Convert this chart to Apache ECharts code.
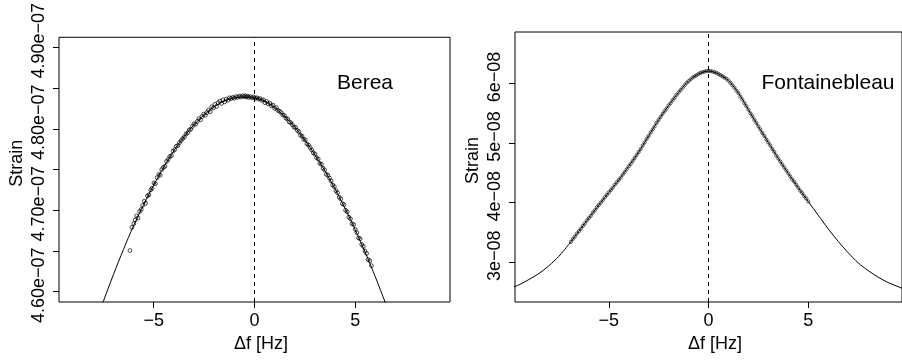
<!DOCTYPE html>
<html>
<head>
<meta charset="utf-8">
<script src="https://cdn.jsdelivr.net/npm/echarts@6/dist/echarts.min.js"></script>
<style>
  html, body { margin: 0; padding: 0; background: #fff; }
  #chart { width: 902px; height: 360px; }
</style>
</head>
<body>
<div id="chart"></div>
<script>
// ---- data ----
const X_MIN = -9.7;
const X_MAX = 9.7;
const xTicks = [-5, 0, 5];

// Berea: strain in units of 1e-7
const BEREA_UNIT = 1e-7;
const bereaTicks = [4.60, 4.65, 4.70, 4.75, 4.80, 4.85, 4.90];
const bereaLabels = [4.60, 4.70, 4.80, 4.90];
const bereaRange = [4.5874, 4.9123];
const bereaFreq = [
  -6.18, -6.08, -5.99, -5.92, -5.85, -5.78, -5.70, -5.62, -5.55, -5.47,
  -5.40, -5.31, -5.24, -5.15, -5.08, -4.99, -4.92, -4.83, -4.75, -4.68,
  -4.60, -4.52, -4.44, -4.36, -4.28, -4.20, -4.12, -4.04, -3.96, -3.88,
  -3.80, -3.72, -3.64, -3.56, -3.48, -3.40, -3.32, -3.24, -3.16, -3.08,
  -3.00, -2.92, -2.84, -2.76, -2.68, -2.60, -2.52, -2.44, -2.36, -2.28,
  -2.20, -2.12, -2.04, -1.96, -1.88, -1.80, -1.72, -1.64, -1.56, -1.48,
  -1.40, -1.32, -1.24, -1.16, -1.08, -1.00, -0.92, -0.84, -0.76, -0.68,
  -0.60, -0.52, -0.46, -0.40, -0.34, -0.28, -0.20, -0.12, -0.04, 0.04,
  0.12, 0.20, 0.28, 0.36, 0.44, 0.52, 0.60, 0.68, 0.76, 0.84,
  0.92, 1.00, 1.08, 1.16, 1.24, 1.32, 1.40, 1.48, 1.56, 1.64,
  1.72, 1.80, 1.88, 1.96, 2.04, 2.12, 2.20, 2.28, 2.36, 2.44,
  2.52, 2.60, 2.68, 2.76, 2.84, 2.92, 3.00, 3.08, 3.16, 3.24,
  3.32, 3.40, 3.48, 3.56, 3.64, 3.72, 3.80, 3.88, 3.96, 4.04,
  4.12, 4.20, 4.28, 4.36, 4.44, 4.52, 4.60, 4.68, 4.76, 4.84,
  4.92, 5.00, 5.08, 5.16, 5.24, 5.32, 5.40, 5.48, 5.56, 5.64,
  5.72, 5.80
];
const bereaStrain = [
  4.6505, 4.6790, 4.6835, 4.6880, 4.6930, 4.6905, 4.6985, 4.7010, 4.7060, 4.7110,
  4.7085, 4.7175, 4.7190, 4.7250, 4.7270, 4.7335, 4.7325, 4.7400, 4.7440, 4.7430,
  4.7500, 4.7525, 4.7540, 4.7600, 4.7625, 4.7660, 4.7670, 4.7725, 4.7745, 4.7785,
  4.7795, 4.7830, 4.7855, 4.7880, 4.7900, 4.7935, 4.7950, 4.7985, 4.7995, 4.8030,
  4.8060, 4.8055, 4.8090, 4.8125, 4.8110, 4.8150, 4.8180, 4.8165, 4.8200, 4.8230,
  4.8210, 4.8270, 4.8255, 4.8300, 4.8275, 4.8320, 4.8340, 4.8310, 4.8355, 4.8330,
  4.8365, 4.8350, 4.8380, 4.8370, 4.8385, 4.8375, 4.8395, 4.8385, 4.8400, 4.8390,
  4.8405, 4.8395, 4.8405, 4.8390, 4.8400, 4.8385, 4.8395, 4.8380, 4.8390, 4.8375,
  4.8380, 4.8365, 4.8370, 4.8350, 4.8355, 4.8320, 4.8335, 4.8305, 4.8315, 4.8280,
  4.8290, 4.8250, 4.8260, 4.8225, 4.8215, 4.8200, 4.8170, 4.8165, 4.8130, 4.8120,
  4.8085, 4.8075, 4.8050, 4.8020, 4.8015, 4.7980, 4.7965, 4.7920, 4.7910, 4.7870,
  4.7865, 4.7815, 4.7800, 4.7770, 4.7740, 4.7705, 4.7690, 4.7645, 4.7630, 4.7575,
  4.7565, 4.7515, 4.7495, 4.7440, 4.7430, 4.7395, 4.7360, 4.7310, 4.7290, 4.7240,
  4.7215, 4.7160, 4.7140, 4.7080, 4.7070, 4.7000, 4.6980, 4.6915, 4.6895, 4.6835,
  4.6825, 4.6765, 4.6725, 4.6660, 4.6650, 4.6580, 4.6555, 4.6500, 4.6470, 4.6395,
  4.6380, 4.6320
];
const bereaFitFreq = [
  -7.7, -7.5, -7.0, -6.5, -6.0, -5.5, -5.0, -4.5, -4.0, -3.5, -3.0, -2.5, -2.0, -1.5,
  -1.0, -0.5, 0.0, 0.5, 1.0, 1.5, 2.0, 2.5, 3.0, 3.5, 4.0, 4.5, 5.0, 5.5, 6.0, 6.5, 6.7
];
const bereaFitStrain = [
  4.572, 4.588, 4.621, 4.652, 4.681, 4.707, 4.731, 4.753, 4.773, 4.790, 4.805, 4.817, 4.827, 4.834,
  4.838, 4.839, 4.838, 4.834, 4.826, 4.815, 4.802, 4.786, 4.768, 4.748, 4.726, 4.702, 4.676, 4.648, 4.618, 4.586, 4.573
];

// Fontainebleau: strain in units of 1e-8
const FONT_UNIT = 1e-8;
const fontTicks = [3, 4, 5, 6];
const fontRange = [2.332, 6.865];
const fontFreq = [
  -6.9, -6.8, -6.7, -6.6, -6.5, -6.4, -6.3, -6.2, -6.1, -6.0,
  -5.9, -5.8, -5.7, -5.6, -5.5, -5.4, -5.3, -5.2, -5.1, -5.0,
  -4.9, -4.8, -4.7, -4.6, -4.5, -4.4, -4.3, -4.2, -4.1, -4.0,
  -3.9, -3.8, -3.7, -3.6, -3.5, -3.4, -3.3, -3.2, -3.1, -3.0,
  -2.9, -2.8, -2.7, -2.6, -2.5, -2.4, -2.3, -2.2, -2.1, -2.0,
  -1.9, -1.8, -1.7, -1.6, -1.5, -1.4, -1.3, -1.2, -1.1, -1.0,
  -0.9, -0.8, -0.7, -0.6, -0.5, -0.4, -0.3, -0.2, -0.1, 0.0,
  0.1, 0.2, 0.3, 0.4, 0.5, 0.6, 0.7, 0.8, 0.9, 1.0,
  1.1, 1.2, 1.3, 1.4, 1.5, 1.6, 1.7, 1.8, 1.9, 2.0,
  2.1, 2.2, 2.3, 2.4, 2.5, 2.6, 2.7, 2.8, 2.9, 3.0,
  3.1, 3.2, 3.3, 3.4, 3.5, 3.6, 3.7, 3.8, 3.9, 4.0,
  4.1, 4.2, 4.3, 4.4, 4.5, 4.6, 4.7, 4.8, 4.9, 5.0
];
const fontStrain = [
  3.34, 3.39, 3.43, 3.48, 3.52, 3.56, 3.61, 3.65, 3.70, 3.74,
  3.78, 3.83, 3.87, 3.92, 3.96, 4.00, 4.04, 4.09, 4.13, 4.17,
  4.21, 4.25, 4.30, 4.34, 4.38, 4.42, 4.47, 4.51, 4.56, 4.61,
  4.65, 4.70, 4.75, 4.80, 4.85, 4.90, 4.96, 5.01, 5.07, 5.12,
  5.18, 5.23, 5.28, 5.34, 5.39, 5.44, 5.49, 5.54, 5.58, 5.63,
  5.67, 5.72, 5.76, 5.81, 5.85, 5.89, 5.93, 5.97, 6.01, 6.04,
  6.07, 6.10, 6.12, 6.14, 6.16, 6.18, 6.19, 6.20, 6.21, 6.21,
  6.21, 6.20, 6.19, 6.18, 6.16, 6.14, 6.12, 6.10, 6.08, 6.05,
  6.01, 5.97, 5.93, 5.88, 5.84, 5.78, 5.73, 5.67, 5.62, 5.56,
  5.50, 5.45, 5.39, 5.34, 5.28, 5.23, 5.17, 5.12, 5.06, 5.01,
  4.96, 4.90, 4.85, 4.79, 4.74, 4.69, 4.64, 4.59, 4.54, 4.49,
  4.44, 4.39, 4.35, 4.30, 4.25, 4.20, 4.16, 4.11, 4.07, 4.02
];
const fontFitFreq = [
  -9.8, -9.5, -9.0, -8.5, -8.0, -7.5, -7.0, -6.5, -6.0, -5.5, -5.0, -4.5, -4.0, -3.5, -3.0,
  -2.5, -2.0, -1.5, -1.0, -0.5, 0.0, 0.5, 1.0, 1.5, 2.0, 2.5, 3.0, 3.5, 4.0, 4.5, 5.0,
  5.5, 6.0, 6.5, 7.0, 7.5, 8.0, 8.5, 9.0, 9.5, 9.8
];
const fontFitStrain = [
  2.58, 2.62, 2.71, 2.81, 2.94, 3.10, 3.30, 3.52, 3.74, 3.96, 4.17, 4.38, 4.61, 4.85, 5.12,
  5.39, 5.63, 5.85, 6.04, 6.16, 6.21, 6.16, 6.05, 5.84, 5.56, 5.28, 5.01, 4.74, 4.49, 4.25, 4.02,
  3.79, 3.56, 3.35, 3.16, 2.99, 2.86, 2.75, 2.66, 2.59, 2.55
];

// ---- chart ----
const FONT = '"Liberation Sans", Arial, Helvetica, sans-serif';
const pairs = (xs, ys, unit) => xs.map((x, i) => [x, ys[i] * unit]);

// R style exponent labels: 4.60e-07 with a real minus sign
function rExp(v, digits) {
  const s = v.toExponential(digits);
  const parts = s.split('e');
  const e = parseInt(parts[1], 10);
  return parts[0] + 'e' + (e < 0 ? '\u2212' : '+') + String(Math.abs(e)).padStart(2, '0');
}

function xAxisFor(gridIndex) {
  return {
    type: 'value',
    gridIndex: gridIndex,
    min: X_MIN,
    max: X_MAX,
    axisLine: { show: false, onZero: false },
    axisTick: { show: true, inside: false, length: 6, customValues: xTicks, lineStyle: { color: '#000', width: 1 } },
    axisLabel: {
      customValues: xTicks, color: '#000', fontSize: 18, fontFamily: FONT, margin: 10,
      formatter: v => String(v).replace('-', '\u2212')
    },
    splitLine: { show: false },
    name: '\u0394f [Hz]',
    nameLocation: 'middle',
    nameGap: 30,
    // R draws these titles a little toward the end of the text
    nameTextStyle: { color: '#000', fontSize: 18, fontFamily: FONT, padding: [0, 0, 0, 13] }
  };
}

function yAxisFor(gridIndex, range, unit, ticks, labels, digits) {
  return {
    type: 'value',
    gridIndex: gridIndex,
    min: range[0] * unit,
    max: range[1] * unit,
    axisLine: { show: false, onZero: false },
    axisTick: { show: true, inside: false, length: 6, customValues: ticks.map(t => t * unit), lineStyle: { color: '#000', width: 1 } },
    axisLabel: {
      customValues: labels.map(t => t * unit), rotate: 90, hideOverlap: false,
      align: 'center', verticalAlign: 'bottom', padding: [0, 0, 0, 13],
      color: '#000', fontSize: 18, fontFamily: FONT, margin: 11,
      formatter: v => rExp(v, digits)
    },
    splitLine: { show: false },
    name: 'Strain',
    nameLocation: 'middle',
    nameGap: 33,
    nameTextStyle: { color: '#000', fontSize: 18, fontFamily: FONT, padding: [0, 0, 0, 13] }
  };
}

const zeroLine = {
  silent: true,
  symbol: ['none', 'none'],
  label: { show: false },
  lineStyle: { color: '#000', width: 1, type: [4, 4] },
  data: [{ xAxis: 0 }]
};

const circleStyle = { color: 'rgba(0,0,0,0)', borderColor: '#000', borderWidth: 0.9 };

const chart = echarts.init(document.getElementById('chart'), null, { renderer: 'canvas' });
chart.setOption({
  animation: false,
  backgroundColor: '#fff',
  grid: [
    { left: 59, top: 32, width: 391, height: 270, show: true, borderColor: '#000', borderWidth: 1, backgroundColor: 'transparent' },
    { left: 515, top: 32, width: 391, height: 270, show: true, borderColor: '#000', borderWidth: 1, backgroundColor: 'transparent' }
  ],
  xAxis: [xAxisFor(0), xAxisFor(1)],
  yAxis: [
    yAxisFor(0, bereaRange, BEREA_UNIT, bereaTicks, bereaLabels, 2),
    yAxisFor(1, fontRange, FONT_UNIT, fontTicks, fontTicks, 0)
  ],
  graphic: [
    { type: 'text', x: 365, y: 83, style: { text: 'Berea', font: '21px ' + FONT, fill: '#000', align: 'center', verticalAlign: 'middle' } },
    { type: 'text', x: 828, y: 83, style: { text: 'Fontainebleau', font: '21px ' + FONT, fill: '#000', align: 'center', verticalAlign: 'middle' } }
  ],
  series: [
    {
      type: 'line', xAxisIndex: 0, yAxisIndex: 0, silent: true,
      data: pairs(bereaFitFreq, bereaFitStrain, BEREA_UNIT),
      showSymbol: false, smooth: 0.3, clip: true,
      lineStyle: { color: '#000', width: 1 },
      markLine: zeroLine
    },
    {
      type: 'scatter', xAxisIndex: 0, yAxisIndex: 0, silent: true,
      data: pairs(bereaFreq, bereaStrain, BEREA_UNIT),
      symbol: 'circle', symbolSize: 3.8, itemStyle: circleStyle
    },
    {
      type: 'line', xAxisIndex: 1, yAxisIndex: 1, silent: true,
      data: pairs(fontFitFreq, fontFitStrain, FONT_UNIT),
      showSymbol: false, smooth: 0.3, clip: true,
      lineStyle: { color: '#000', width: 1 },
      markLine: zeroLine
    },
    {
      type: 'scatter', xAxisIndex: 1, yAxisIndex: 1, silent: true,
      data: pairs(fontFreq, fontStrain, FONT_UNIT),
      symbol: 'circle', symbolSize: 3.2, itemStyle: { color: 'rgba(0,0,0,0)', borderColor: '#000', borderWidth: 0.8 }
    }
  ]
});
</script>
</body>
</html>
